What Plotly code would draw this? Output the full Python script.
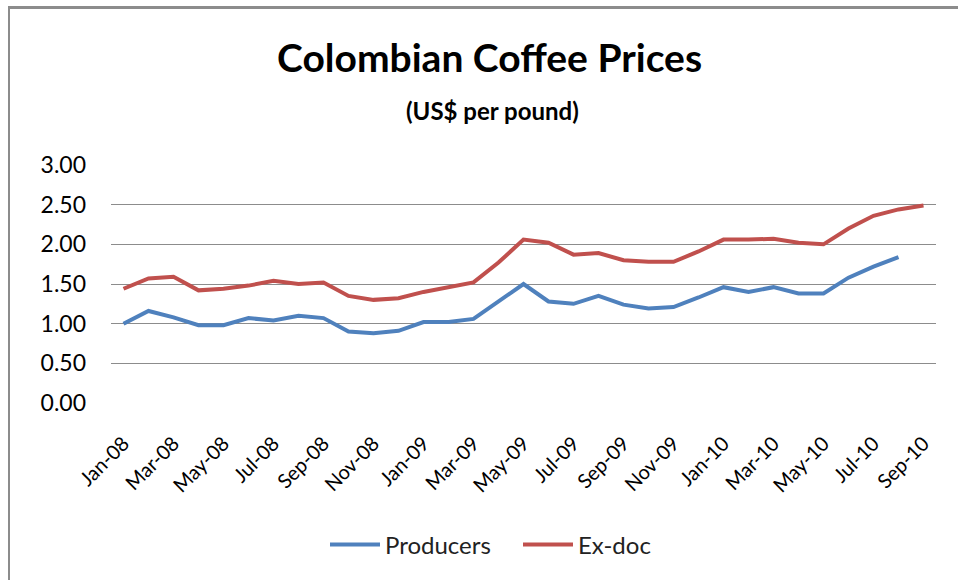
import plotly.graph_objects as go

months = ["Jan-08", "Feb-08", "Mar-08", "Apr-08", "May-08", "Jun-08", "Jul-08", "Aug-08",
          "Sep-08", "Oct-08", "Nov-08", "Dec-08", "Jan-09", "Feb-09", "Mar-09", "Apr-09",
          "May-09", "Jun-09", "Jul-09", "Aug-09", "Sep-09", "Oct-09", "Nov-09", "Dec-09",
          "Jan-10", "Feb-10", "Mar-10", "Apr-10", "May-10", "Jun-10", "Jul-10", "Aug-10",
          "Sep-10"]

producers = [1.00, 1.16, 1.08, 0.98, 0.98, 1.07, 1.04, 1.10, 1.07, 0.90, 0.88, 0.91,
             1.02, 1.02, 1.06, 1.28, 1.50, 1.28, 1.25, 1.35, 1.24, 1.19, 1.21, 1.33,
             1.46, 1.40, 1.46, 1.38, 1.38, 1.58, 1.72, 1.84]

exdoc = [1.44, 1.57, 1.59, 1.42, 1.44, 1.48, 1.54, 1.50, 1.52, 1.35, 1.30, 1.32,
         1.40, 1.46, 1.52, 1.77, 2.06, 2.02, 1.87, 1.89, 1.80, 1.78, 1.78, 1.91,
         2.06, 2.06, 2.07, 2.02, 2.00, 2.20, 2.36, 2.44, 2.49]

tick_labels = months[::2]
y_ticks = [0.0, 0.5, 1.0, 1.5, 2.0, 2.5, 3.0]

FONT = "Lato"

fig = go.Figure()
fig.add_trace(go.Scatter(x=months[:len(producers)], y=producers, name="Producers",
                         mode="lines", line=dict(color="#4F81BD", width=4)))
fig.add_trace(go.Scatter(x=months, y=exdoc, name="Ex-doc",
                         mode="lines", line=dict(color="#C0504D", width=4)))

W, H = 958, 580
L, R, T, B = 111, 22, 165, 177
pw, ph = W - L - R, H - T - B

def px(x):
    return (x - L) / pw

def py(y):
    return (H - B - y) / ph

fig.update_layout(
    width=W, height=H,
    margin=dict(l=L, r=R, t=T, b=B),
    paper_bgcolor="white", plot_bgcolor="white",
    font=dict(family=FONT, color="#000000"),
    showlegend=True,
    legend=dict(orientation="h", x=px(518), xanchor="center", y=py(545), yanchor="middle",
                font=dict(size=24, family=FONT, color="#222222"), itemwidth=50,
                entrywidth=128, tracegroupgap=0),
    xaxis=dict(type="category", categoryorder="array", categoryarray=months,
               range=[-0.5, len(months) - 0.5], tickmode="array",
               tickvals=tick_labels, ticktext=tick_labels, tickangle=-45,
               tickfont=dict(size=20, family=FONT, color="#000000"),
               showgrid=False, showline=False, zeroline=False, ticks="",
               ticklabelstandoff=24),
    yaxis=dict(range=[0, 3], tickmode="array", tickvals=y_ticks,
               ticktext=[f"{v:.2f}" for v in y_ticks],
               tickfont=dict(size=23, family=FONT, color="#000000"),
               showgrid=True, gridcolor="#8C8C8C", gridwidth=1,
               zeroline=False, showline=False, ticks="", ticklabelstandoff=24),
    annotations=[
        dict(text="<b>Colombian Coffee Prices</b>", x=px(489), y=py(57), xref="paper",
             yref="paper", xanchor="center", yanchor="middle", showarrow=False,
             font=dict(size=39, family=FONT, color="#000000")),
        dict(text="<b>(US$ per pound)</b>", x=px(492), y=py(111), xref="paper",
             yref="paper", xanchor="center", yanchor="middle", showarrow=False,
             font=dict(size=24, family=FONT, color="#000000")),
    ],
    shapes=[
        dict(type="line", xref="paper", yref="paper", x0=px(9), x1=px(9),
             y0=py(7), y1=py(600), line=dict(color="#8C8C8C", width=2)),
        dict(type="line", xref="paper", yref="paper", x0=px(8), x1=px(970),
             y0=py(7.5), y1=py(7.5), line=dict(color="#8C8C8C", width=3)),
    ],
)

fig.write_html("out.html")
